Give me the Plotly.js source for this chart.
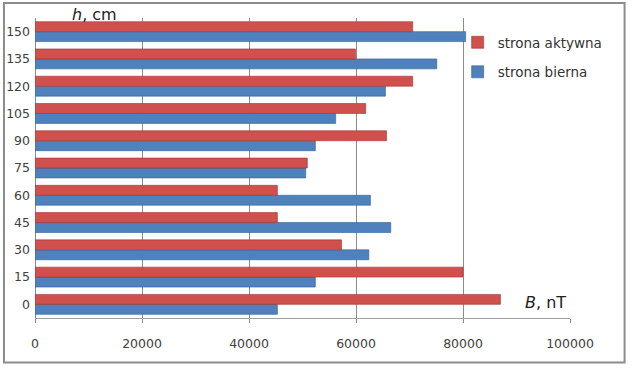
<!DOCTYPE html>
<html><head><meta charset="utf-8">
<script src="https://cdn.plot.ly/plotly-3.0.1.min.js"></script>
<style>body{margin:0;background:#fff}#c{width:632px;height:370px}</style>
</head><body><div id="c"></div>
<script>
const heights = ['0','15','30','45','60','75','90','105','120','135','150'];
const aktywna = [87000, 80000, 57300, 45300, 45300, 50900, 65700, 61800, 70600, 59900, 70600];
const bierna  = [45300, 52400, 62400, 66500, 62700, 50600, 52400, 56200, 65500, 75100, 80500];
const xTicks = [0, 20000, 40000, 60000, 80000, 100000];

const F = 'DejaVu Sans, sans-serif';
const traces = [
  {type:'bar', orientation:'h', name:'strona bierna', legendgroup:'b', legendrank:2, y:heights, x:bierna,
   marker:{color:'#4F81BD', line:{color:'#2f5f96', width:0.6}}},
  {type:'bar', orientation:'h', name:'strona aktywna', legendgroup:'a', legendrank:1, y:heights, x:aktywna,
   marker:{color:'#D0504D', line:{color:'#9c3430', width:0.6}}}
];
const layout = {
  width:632, height:370,
  margin:{l:35, r:62, t:18, b:52, autoexpand:false},
  paper_bgcolor:'#fff', plot_bgcolor:'#fff',
  barmode:'group', bargap:0.27, bargroupgap:0,
  showlegend:true,
  legend:{x:0.79, y:0.97, xanchor:'left', yanchor:'top', traceorder:'grouped',
          font:{family:F, size:13.5, color:'#333'}, bgcolor:'rgba(255,255,255,0)', itemwidth:30, tracegroupgap:9},
  xaxis:{range:[0,100000], tickvals:xTicks, ticktext:xTicks.map(String),
         showgrid:true, gridcolor:'#8c8c8c', gridwidth:1, zeroline:true, zerolinecolor:'#8c8c8c', zerolinewidth:1,
         showline:true, linecolor:'#a0a0a0', linewidth:1, ticks:'outside', ticklen:4, tickcolor:'#8c8c8c',
         ticklabelstandoff:10, tickfont:{family:F, size:12.5, color:'#404040'}},
  yaxis:{type:'category', categoryorder:'array', categoryarray:heights,
         showgrid:false, zeroline:false, showline:false, ticks:'', ticklabelstandoff:4,
         tickfont:{family:F, size:12.5, color:'#404040'}},
  annotations:[
    {xref:'paper', yref:'paper', x:0.112, y:1.01, text:'<i>h</i>, cm', showarrow:false,
     font:{family:F, size:16, color:'#222'}, xanchor:'center', yanchor:'middle'},
    {xref:'paper', yref:'paper', x:0.955, y:0.053, text:'<i>B</i>, nT', showarrow:false,
     font:{family:F, size:16, color:'#222'}, xanchor:'center', yanchor:'middle', bgcolor:'#fff'}
  ],
  shapes:[
    {type:'rect', xref:'paper', yref:'paper', x0:-0.058, x1:1.102, y0:-0.148, y1:1.05,
     line:{color:'#8c8c8c', width:2}, fillcolor:'rgba(0,0,0,0)', layer:'above'}
  ]
};
Plotly.newPlot('c', traces, layout, {displayModeBar:false, staticPlot:true});
</script></body></html>
